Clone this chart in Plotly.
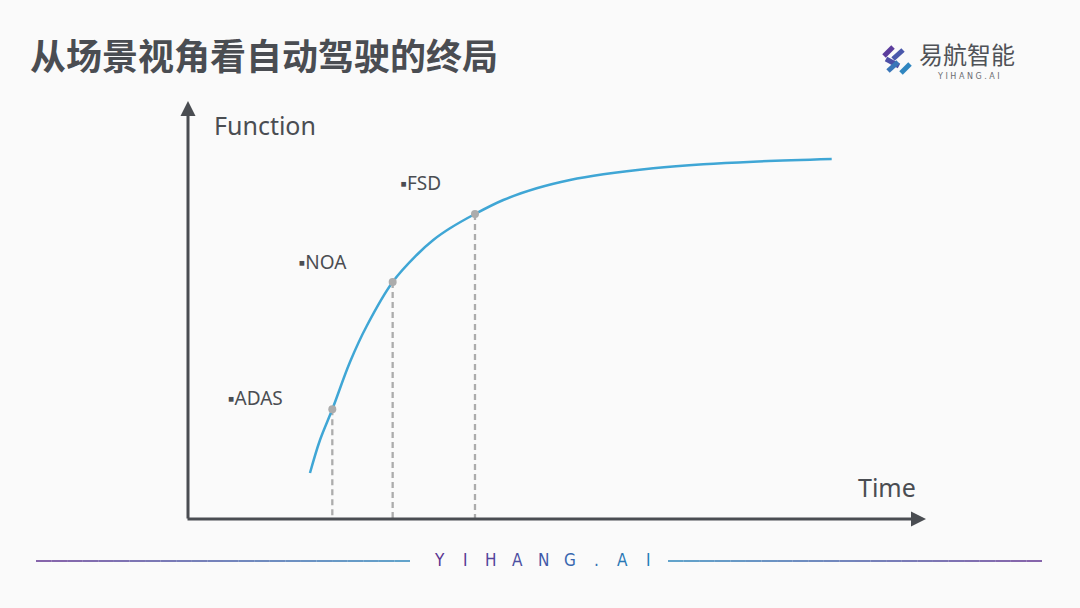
import plotly.graph_objects as go

# ---------------- data ----------------
title_text = "从场景视角看自动驾驶的终局"
curve_time = [16.55, 17.91, 19.58, 21.98, 24.25, 27.77, 31.03, 33.28, 35.55, 38.94, 42.78, 47.31,
              51.83, 56.35, 63.13, 69.92, 76.70, 87.34]
curve_func = [11.03, 18.94, 26.31, 37.65, 46.28, 56.83, 63.31, 66.91, 69.71, 73.14, 76.50, 79.30,
              81.29, 82.66, 84.10, 85.06, 85.68, 86.33]
stage_names = ["ADAS", "NOA", "FSD"]
stage_time = [19.58, 27.77, 38.94]
stage_func = [26.31, 56.83, 73.14]
label_time = [5.4, 15.0, 28.8]
label_func = [28.5, 61.0, 80.0]
x_label = "Time"
y_label = "Function"
brand_cn = "易航智能"
brand_en = "Y I H A N G . A I"
footer_letters = ["Y", "I", "H", "A", "N", "G", ".", "A", "I"]
footer_colors = ["#5b3591", "#583a95", "#52449b", "#4b4fa1", "#4159a8", "#3866ae", "#3070b2", "#2a78b5", "#2580b8"]

W, H = 1080, 608
AX_COLOR = "#4a4d52"
CURVE_COLOR = "#3fa6d5"
GREY = "#acacac"

x0p, x1p = 188, 925
y0p, y1p = 519, 102

fig = go.Figure()

# dashed drop lines
for t, f in zip(stage_time, stage_func):
    fig.add_trace(go.Scatter(x=[t, t], y=[f, 0], mode="lines",
                             line=dict(color=GREY, width=2.3, dash="6px,4px"),
                             hoverinfo="skip", showlegend=False))

# curve
fig.add_trace(go.Scatter(x=curve_time, y=curve_func, mode="lines",
                         line=dict(color=CURVE_COLOR, width=2.5, shape="spline", smoothing=1.0),
                         hoverinfo="skip", showlegend=False))

# stage points
fig.add_trace(go.Scatter(x=stage_time, y=stage_func, mode="markers",
                         marker=dict(color=GREY, size=8),
                         hoverinfo="skip", showlegend=False))

# stage labels
fig.add_trace(go.Scatter(x=label_time, y=label_func, mode="text",
                         text=["▪" + s for s in stage_names], textposition="middle right",
                         textfont=dict(family="Noto Sans, Open Sans, sans-serif", size=19, color="#4a4d52"),
                         hoverinfo="skip", showlegend=False))

annotations = []
# axes arrows
annotations.append(dict(x=x0p / W, y=1 - 101 / H, xref="paper", yref="paper",
                        ax=0, ay=(y0p - 101) + 1, axref="pixel", ayref="pixel",
                        showarrow=True, arrowhead=2, arrowsize=1, arrowwidth=3,
                        arrowcolor=AX_COLOR, text=""))
annotations.append(dict(x=926 / W, y=1 - y0p / H, xref="paper", yref="paper",
                        ax=-(926 - 186), ay=0, axref="pixel", ayref="pixel",
                        showarrow=True, arrowhead=2, arrowsize=1, arrowwidth=3,
                        arrowcolor=AX_COLOR, text=""))

# axis titles
annotations.append(dict(x=212 / W, y=1 - 125 / H, xref="paper", yref="paper",
                        text=y_label, showarrow=False, xanchor="left", yanchor="middle",
                        font=dict(family="Noto Sans, Open Sans, sans-serif", size=25, color="#4a4d52")))
annotations.append(dict(x=918 / W, y=1 - 487 / H, xref="paper", yref="paper",
                        text=x_label, showarrow=False, xanchor="right", yanchor="middle",
                        font=dict(family="Noto Sans, Open Sans, sans-serif", size=25, color="#4a4d52")))

# title
annotations.append(dict(x=28 / W, y=1 - 54 / H, xref="paper", yref="paper",
                        text="<b>" + title_text + "</b>", showarrow=False, xanchor="left", yanchor="middle",
                        font=dict(family="Noto Sans CJK SC, sans-serif", size=36, color="#4a4d52")))

# logo text
annotations.append(dict(x=917 / W, y=1 - 54 / H, xref="paper", yref="paper",
                        text=brand_cn, showarrow=False, xanchor="left", yanchor="middle",
                        font=dict(family="Noto Sans CJK SC, sans-serif", size=24, color="#4f5257")))
annotations.append(dict(x=968 / W, y=1 - 76 / H, xref="paper", yref="paper",
                        text=brand_en, showarrow=False, xanchor="center", yanchor="middle",
                        font=dict(family="DejaVu Sans, sans-serif", size=8, color="#6a6d72")))

# footer letters
fx_start, fx_step = 439, 26.2
for i, (ch, col) in enumerate(zip(footer_letters, footer_colors)):
    annotations.append(dict(x=(fx_start + i * fx_step) / W, y=1 - 560 / H, xref="paper", yref="paper",
                            text=ch, showarrow=False, xanchor="center", yanchor="middle",
                            font=dict(family="DejaVu Sans Condensed, DejaVu Sans, sans-serif", size=17, color=col)))

shapes = []
# footer gradient lines
def grad_line(xa, xb, ca, cb, n=24):
    def hx(c):
        return [int(c[i:i + 2], 16) for i in (1, 3, 5)]
    a, b = hx(ca), hx(cb)
    for k in range(n):
        t = (k + 0.5) / n
        c = [round(a[j] + (b[j] - a[j]) * t) for j in range(3)]
        shapes.append(dict(type="line", xref="paper", yref="paper",
                           x0=(xa + (xb - xa) * k / n) / W, x1=(xa + (xb - xa) * (k + 1) / n) / W,
                           y0=1 - 561 / H, y1=1 - 561 / H,
                           line=dict(color="rgb(%d,%d,%d)" % tuple(c), width=1.6)))

grad_line(36, 410, "#6a3d96", "#3a8fc0")
grad_line(668, 1042, "#3a8fc0", "#6a3d96")

# logo icon strokes
def stroke(xa, ya, xb, yb, col, w=5):
    shapes.append(dict(type="line", xref="paper", yref="paper",
                       x0=xa / W, y0=1 - ya / H, x1=xb / W, y1=1 - yb / H,
                       line=dict(color=col, width=w)))

stroke(884, 56, 893, 47, "#5b3c9c")
stroke(886, 59, 899, 66, "#4d4fa6")
stroke(893, 59, 903, 50, "#4a58ab")
stroke(888, 71, 898, 62, "#3a76b8")
stroke(901, 73, 910, 64, "#2f86c0")

fig.update_layout(
    width=W, height=H,
    margin=dict(l=0, r=0, t=0, b=0),
    paper_bgcolor="#fafafa", plot_bgcolor="rgba(0,0,0,0)",
    xaxis=dict(domain=[x0p / W, x1p / W], range=[0, 100], visible=False, fixedrange=True),
    yaxis=dict(domain=[1 - y0p / H, 1 - y1p / H], range=[0, 100], visible=False, fixedrange=True),
    annotations=annotations, shapes=shapes, showlegend=False,
)

fig.write_html("out.html", config={"displayModeBar": False},
               post_script="document.body.style.margin='0';document.body.style.background='#fafafa';")
